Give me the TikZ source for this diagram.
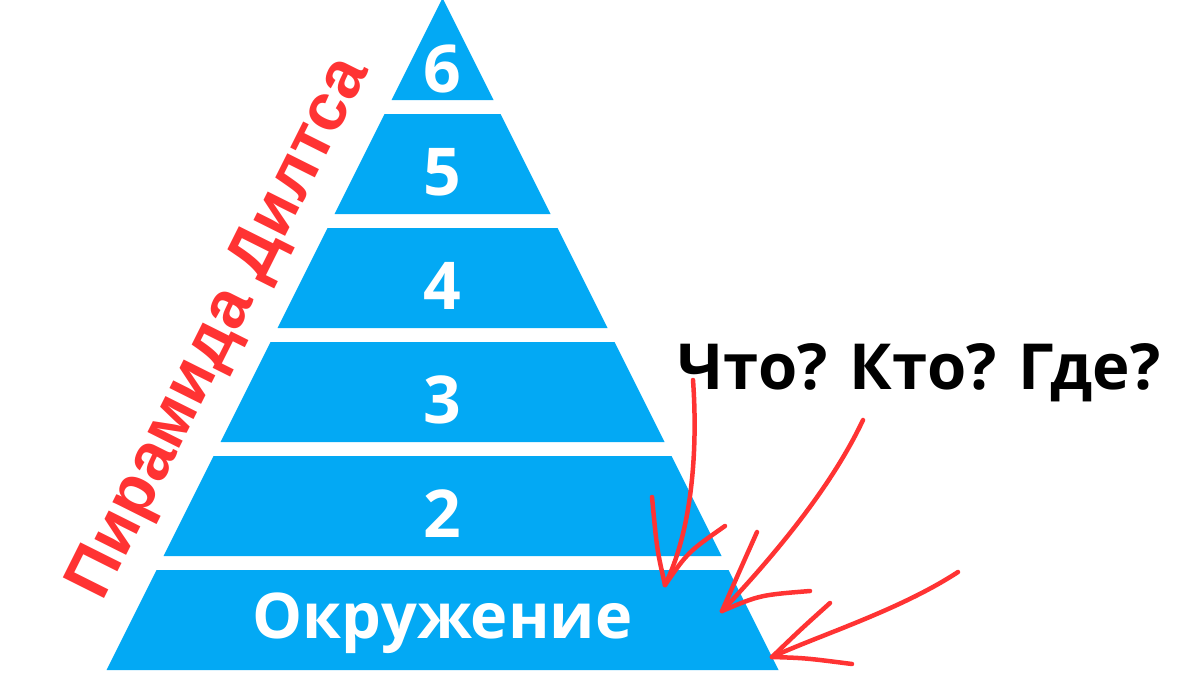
\documentclass[tikz,border=0pt]{standalone}
\usepackage{fontspec}
\setmainfont{Open Sans}
\newfontfamily\diltsfont{Liberation Sans}
\usepackage{xcolor}
\usetikzlibrary{calc}
\definecolor{pyrblue}{HTML}{03A9F4}
\definecolor{pyrred}{HTML}{FF3333}

\tikzset{
  level box/.style={fill=pyrblue},
  level label/.style={anchor=base,text=white,font=\fontsize{66}{66}\selectfont\bfseries},
  hand arrow/.style={draw=pyrred,line width=4.5pt,line cap=round,line join=round}
}

\begin{document}
\begin{tikzpicture}[x=1pt,y=-1pt]
            \useasboundingbox (0,0) rectangle (1200,675);
            % levels of the pyramid, top = 6
            \foreach \k in {0,...,5} {
              \pgfmathsetmacro{\yt}{114*\k}
              \pgfmathsetmacro{\yb}{114*\k+100}
              \fill[level box] ({442.5-0.5*(\yt+2)},\yt) -- ({442.5+0.5*(\yt+2)},\yt)
                -- ({442.5+0.5*(\yb+2)},\yb) -- ({442.5-0.5*(\yb+2)},\yb) -- cycle;
            }
            \node[level label] (l6) at (442.5,92) {6};
            \node[level label] (l5) at (442.5,195) {5};
            \node[level label] (l4) at (442.5,309) {4};
            \node[level label] (l3) at (442.5,423) {3};
            \node[level label] (l2) at (442.5,537) {2};
            \node[level label,font=\fontsize{63}{63}\selectfont\bfseries] (l1) at (442.5,638) {Окружение};
            % title along the left edge
            \node[anchor=base,rotate=63.43,text=pyrred,font=\diltsfont\fontsize{67}{67}\selectfont\bfseries]
              (title) at (236,336) {Пирамида Дилтса};
            % question
            \node[anchor=base,font=\fontsize{63.5}{63.5}\selectfont\bfseries] (ask) at (919,389) {Что? Кто? Где?};
            % arrows to the bottom level
            \coordinate (a1) at (693,380);
            \coordinate (t1) at (665,585);
            \coordinate (a2) at (863,420);
            \coordinate (t2) at (722,611);
            \coordinate (a3) at (958,572);
            \coordinate (t3) at (772,657);
            \draw[hand arrow] (a1) .. controls (698,450) and (692,530) .. (t1);
            \draw[hand arrow] (t1) .. controls (657,550) .. (652,497);
            \draw[hand arrow] (t1) .. controls (688,552) .. (725,526);
            \draw[hand arrow] (a2) .. controls (830,490) and (770,560) .. (t2);
            \draw[hand arrow] (t2) .. controls (740,570) .. (757,532);
            \draw[hand arrow] (t2) .. controls (760,595) .. (810,591);
            \draw[hand arrow] (a3) .. controls (900,610) and (820,635) .. (t3);
            \draw[hand arrow] (t3) .. controls (800,630) .. (830,603);
            \draw[hand arrow] (t3) .. controls (805,658) .. (852,664);
          \end{tikzpicture}
\end{document}
